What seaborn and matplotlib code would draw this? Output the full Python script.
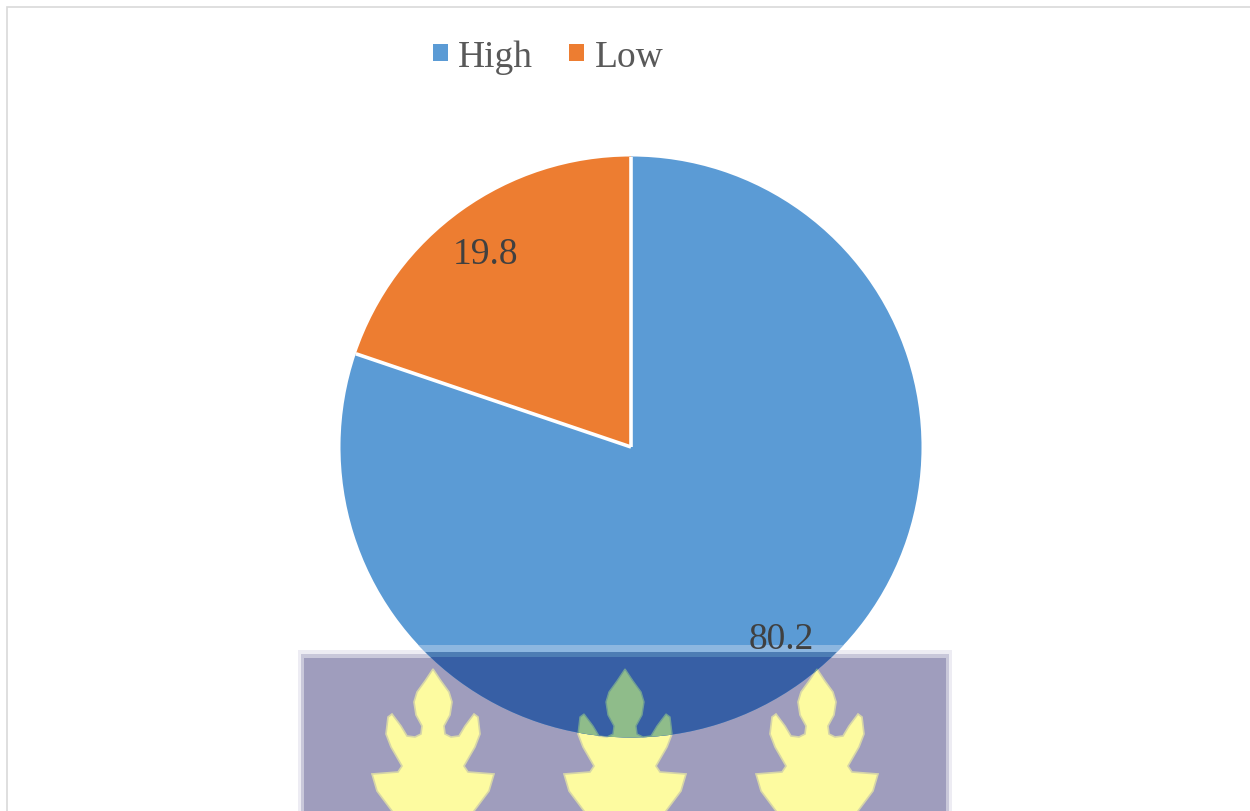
import numpy as np
import matplotlib
matplotlib.use("Agg")
import matplotlib.pyplot as plt
from matplotlib.patches import Patch, Polygon, Rectangle
import seaborn as sns

categories = ["High", "Low"]
shares = [80.2, 19.8]
slice_colors = ["#5B9BD5", "#ED7D31"]
label_xy = [(781, 640), (486, 255)]

WIDTH, HEIGHT = 1250, 812
PIE_CENTER = (631, 448)
PIE_RADIUS = 290.5
CREST_CENTERS = [433, 625, 817]
# Right half of the crest emblem, as (offset from centre, pixels from top of figure)
CREST_HALF = [(0, 670), (8, 682), (16, 693), (19, 703), (17, 716), (11, 727), (12, 735),
              (18, 738), (26, 737), (32, 727), (41, 715), (45, 718), (47, 735), (42, 748),
              (31, 767), (35, 773), (61, 775), (56, 792), (41, 812), (41, 830)]

sns.set_theme(style="white")
plt.rcParams["font.family"] = ["Liberation Serif", "DejaVu Serif"]

fig = plt.figure(figsize=(WIDTH / 100, HEIGHT / 100), dpi=100, facecolor="white")
ax = fig.add_axes([0, 0, 1, 1])


def flip(y):
    return HEIGHT - y


def crest_outline(cx):
    right = [(cx + dx, flip(y)) for dx, y in CREST_HALF]
    left = [(cx - dx, flip(y)) for dx, y in reversed(CREST_HALF[1:])]
    return right + left


def band(x0, x1, top, bottom, **kw):
    return Rectangle((x0, flip(bottom)), x1 - x0, bottom - top, linewidth=0, **kw)


# Chart frame, running off the right and bottom edges
ax.add_patch(Rectangle((7, flip(850)), 1400, 850 - 8, facecolor="white",
                       edgecolor="#D9D9D9", linewidth=1.2, zorder=0))

# Emblem panel behind the pie
ax.add_patch(band(298, 952, 651, 830, facecolor="#EDECF3", zorder=1))
ax.add_patch(band(301, 949, 655, 830, facecolor="#C9C8DA", zorder=1.1))
ax.add_patch(band(304, 946, 659, 830, facecolor="#9F9DBD", zorder=1.2))
for cx in CREST_CENTERS:
    ax.add_patch(Polygon(crest_outline(cx), closed=True, facecolor="#FDFBA0",
                         edgecolor="#D6D5A8", linewidth=1.2, zorder=2))

wedges, _ = ax.pie(shares, colors=slice_colors, startangle=90, counterclock=False,
                   center=(PIE_CENTER[0], flip(PIE_CENTER[1])), radius=PIE_RADIUS, frame=True,
                   wedgeprops=dict(linewidth=0, zorder=3))
ax.set_xlim(0, WIDTH)
ax.set_ylim(0, HEIGHT)
ax.set_axis_off()

# Where the emblem shows through the large slice
high = wedges[0]
overlays = [band(298, 952, 646, 653, facecolor="#8DB7E0", zorder=4),
            band(298, 952, 653, 658, facecolor="#4D7DB4", zorder=4),
            band(298, 952, 658, 830, facecolor="#375FA5", zorder=4)]
for cx in CREST_CENTERS:
    overlays.append(Polygon(crest_outline(cx), closed=True, facecolor="#8FBC8A",
                            edgecolor="#6F9E95", linewidth=1.0, zorder=5))
for patch in overlays:
    ax.add_patch(patch)
    patch.set_clip_path(high.get_path(), high.get_transform())

# White separators along the slice boundaries only
for wedge in wedges:
    angle = np.deg2rad(wedge.theta2)
    ax.plot([PIE_CENTER[0], PIE_CENTER[0] + PIE_RADIUS * np.cos(angle)],
            [flip(PIE_CENTER[1]), flip(PIE_CENTER[1]) + PIE_RADIUS * np.sin(angle)],
            color="white", linewidth=2.6, solid_capstyle="butt", zorder=5.5)

for value, (x, y) in zip(shares, label_xy):
    ax.text(x, flip(y), f"{value}", fontsize=27, color="#404040",
            ha="center", va="center", zorder=6)

handles = [Patch(facecolor=c, edgecolor="none") for c in slice_colors]
ax.legend(handles, categories, loc="center", bbox_to_anchor=(548 / WIDTH, 1 - 58 / HEIGHT),
          bbox_transform=fig.transFigure, ncol=2, frameon=False, fontsize=27,
          labelcolor="#595959", handlelength=0.41, handleheight=0.33,
          handletextpad=0.27, columnspacing=0.95, borderpad=0, borderaxespad=0)

fig.savefig("out.png", dpi=100)
